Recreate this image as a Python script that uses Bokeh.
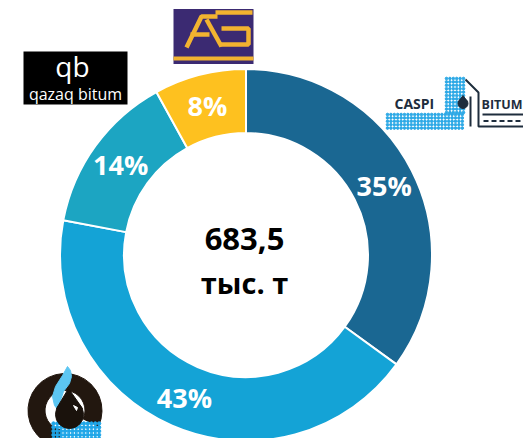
import numpy as np
from bokeh.plotting import figure
from bokeh.models import Range1d, ColumnDataSource
from bokeh.core.properties import value
from bokeh.embed import file_html
from bokeh.resources import INLINE

# ---- data ----
companies = ["Caspi Bitum", "Битумный завод", "Qazaq Bitum", "AS"]
shares = [35, 43, 14, 8]
colors = ["#1a6792", "#14a3d6", "#1ca5c2", "#fec11f"]
total_label = "683,5"
unit_label = "тыс. т"

W, H = 523, 438
def Y(py):
    return H - py

def TB(py, size):
    # baseline position compensated for renderer's baseline offset
    return H - py + 0.33 * size

p = figure(width=W, height=H, output_backend="svg", toolbar_location=None,
           x_range=Range1d(0, W), y_range=Range1d(0, H), min_border=0)
p.axis.visible = False
p.grid.visible = False
p.outline_line_color = None
p.background_fill_color = "white"

cx, cy = 245.5, Y(254.5)
r_in, r_out = 122, 186

frac = np.array(shares, dtype=float) / sum(shares)
cum = np.concatenate([[0], np.cumsum(frac)])
starts = np.pi / 2 - 2 * np.pi * cum[:-1]
ends = np.pi / 2 - 2 * np.pi * cum[1:]
mids = (starts + ends) / 2

lab_size = 27
src = ColumnDataSource(dict(start=starts, end=ends, color=colors,
                            label=[f"{s}%" for s in shares],
                            lx=cx + 155 * np.cos(mids),
                            ly=cy + 155 * np.sin(mids) - 0.357 * lab_size + 0.33 * lab_size))
p.annular_wedge(x=cx, y=cy, inner_radius=r_in, outer_radius=r_out,
                start_angle="start", end_angle="end", direction="clock",
                fill_color="color", line_color="white", line_width=2, source=src)
p.text(x="lx", y="ly", text="label", source=src, text_color="white",
       text_font=value("Open Sans"), text_font_style="bold",
       text_font_size=f"{lab_size}px", text_align="center", text_baseline="alphabetic")

# centre text
p.text(x=[244], y=[TB(248.5, 31)], text=[total_label], text_color="black",
       text_font=value("Open Sans"), text_font_style="bold",
       text_font_size="31px", text_align="center", text_baseline="alphabetic")
p.text(x=[244], y=[TB(291.5, 29)], text=[unit_label], text_color="black",
       text_font=value("Open Sans"), text_font_style="bold",
       text_font_size="29px", text_align="center", text_baseline="alphabetic")

# ---- logos (decoration) ----
# qazaq bitum
p.rect(x=[75], y=[Y(77.5)], width=104, height=53, fill_color="black", line_color=None)
p.text(x=[72], y=[TB(75, 28)], text=["qb"], text_color="white", text_font=value("Open Sans"),
       text_font_size="28px", text_align="center", text_baseline="alphabetic")
p.text(x=[75], y=[TB(99, 16)], text=["qazaq bitum"], text_color="white",
       text_font=value("Open Sans"), text_font_size="16px",
       text_align="center", text_baseline="alphabetic")

# AS logo
p.rect(x=[213], y=[Y(36)], width=80, height=55, fill_color="#3b2a72", line_color=None)
p.rect(x=[213], y=[Y(58)], width=80, height=4, fill_color="#f2b330", line_color=None)
yel_lines_x = [[186, 201, 217], [190, 209], [206, 221], [215, 252], [221, 248, 248, 219]]
yel_lines_y = [[Y(47), Y(16), Y(16)], [Y(34), Y(34)], [Y(19), Y(46)], [Y(12), Y(12)],
               [Y(28), Y(28), Y(44), Y(44)]]
p.multi_line(xs=yel_lines_x, ys=yel_lines_y, line_color="#f2b330", line_width=4.5)

# Caspi Bitum logo
sh = -6
dot_blue = "#2aa8e6"
dx, dy = [], []
for gx in np.arange(393, 470, 3.4):
    for gy in np.arange(114, 128, 3.4):
        dx.append(gx + sh); dy.append(Y(gy))
for gx in np.arange(452, 470, 3.4):
    for gy in np.arange(78, 113, 3.4):
        dx.append(gx + sh); dy.append(Y(gy))
p.scatter(x=dx, y=dy, size=2.6, color=dot_blue)
p.text(x=[400 + sh], y=[TB(108, 14)], text=["CASPI"], text_color="#1e2d3d",
       text_font=value("Open Sans"), text_font_style="bold", text_font_size="14px",
       text_baseline="alphabetic")
p.text(x=[487 + sh], y=[TB(108, 12.5)], text=["BITUM"], text_color="#1e2d3d",
       text_font=value("Open Sans"), text_font_style="bold", text_font_size="12.5px",
       text_baseline="alphabetic")
p.multi_line(xs=[[471 + sh, 484 + sh, 484 + sh, 531], [488 + sh, 531], [476 + sh, 476 + sh]],
             ys=[[Y(79), Y(92), Y(126), Y(126)], [Y(114), Y(114)], [Y(96), Y(126)]],
             line_color="#1e2d3d", line_width=2)
p.line(x=[489 + sh, 531], y=[Y(120.5), Y(120.5)], line_color="#1e2d3d", line_width=2,
       line_dash="5 3")
p.scatter(x=[468.5 + sh], y=[Y(103)], size=10, color="#1e2d3d")
p.patch(x=[464.2 + sh, 468.5 + sh, 472.8 + sh], y=[Y(101), Y(95), Y(101)], color="#1e2d3d")

# bottom-left logo
p.annular_wedge(x=64.5, y=Y(410), inner_radius=20, outer_radius=37,
                start_angle=np.deg2rad(-25), end_angle=np.deg2rad(258),
                direction="anticlock", color="#22170f")
bx, by = [], []
for gx in np.arange(53, 101, 3.8):
    for gy in np.arange(423, 446, 3.8):
        bx.append(gx); by.append(Y(gy))
p.scatter(x=bx, y=by, size=3.4, color="#1fa6e8")
p.patch(x=[67, 62, 55, 52, 54, 58, 60, 63, 69, 71, 70],
        y=[Y(366), Y(375), Y(386), Y(396), Y(405), Y(410), Y(400), Y(391), Y(383), Y(376), Y(370)],
        color="#5cc6f2")
p.circle(x=[69], y=[Y(414)], radius=14, color="#1a120c")
p.patch(x=[56, 68, 82], y=[Y(408), Y(388), Y(408)], color="#1a120c")
p.patch(x=[73, 77, 76], y=[Y(405), Y(407), Y(410)], color="white")

open("out.html", "w").write(file_html(p, INLINE))
